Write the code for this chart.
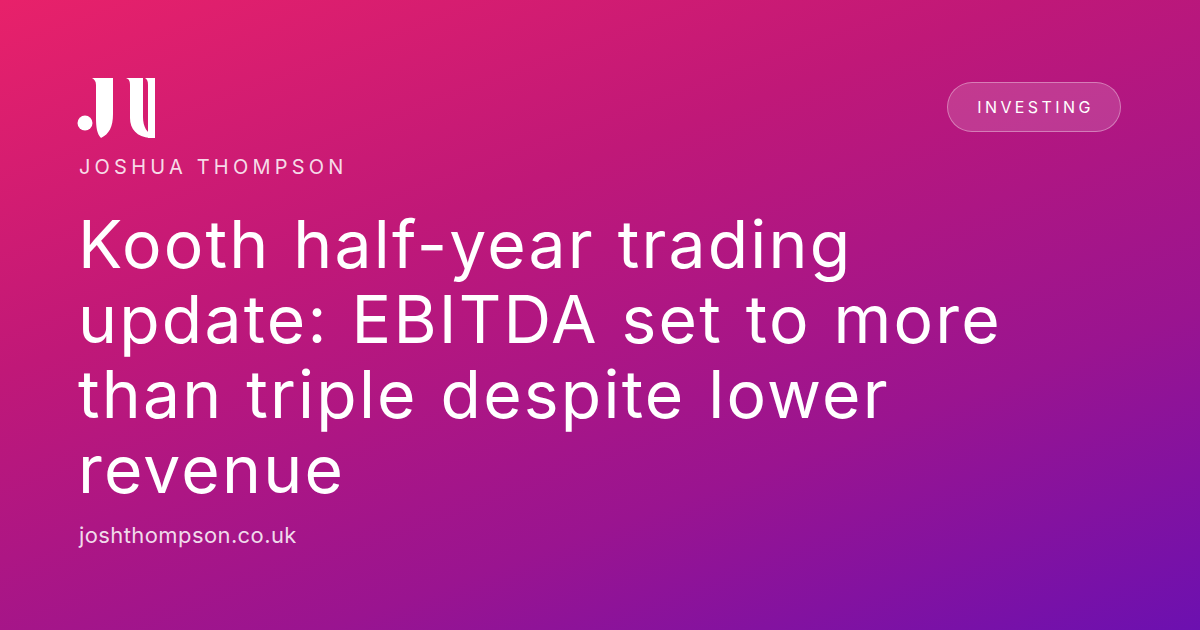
<!DOCTYPE html>
<html>
<head>
<meta charset="utf-8">
<script src="https://cdn.jsdelivr.net/npm/chart.js@4.4.1/dist/chart.umd.min.js"></script>
<style>
    html, body {
        margin: 0;
        padding: 0;
        width: 1200px;
        height: 630px;
        overflow: hidden;
    }
    body {
        position: relative;
        background: linear-gradient(160deg, #e8216a 0%, #c01878 35%, #9a1490 70%, #6c10b0 100%);
        font-family: Inter, "Noto Sans", sans-serif;
        color: #fff;
    }
    .logo {
        position: absolute;
        left: 0;
        top: 0;
    }
    .name {
        position: absolute;
        left: 79px;
        top: 155px;
        font-size: 20px;
        letter-spacing: 4.2px;
        color: rgba(255, 255, 255, 0.85);
    }
    .pill {
        position: absolute;
        left: 947px;
        top: 82px;
        width: 172px;
        height: 48px;
        border: 1.5px solid rgba(255, 255, 255, 0.35);
        background: rgba(255, 255, 255, 0.15);
        border-radius: 26px;
        font-size: 16px;
        letter-spacing: 3.4px;
        text-indent: 3px;
        line-height: 48px;
        text-align: center;
    }
    h1 {
        position: absolute;
        left: 78px;
        top: 207px;
        width: 1100px;
        margin: 0;
        font-weight: 400;
        font-size: 66px;
        line-height: 75px;
        letter-spacing: 2.2px;
        word-spacing: 2px;
    }
    .site {
        position: absolute;
        left: 79px;
        top: 522px;
        font-size: 22px;
        letter-spacing: 0.4px;
        color: rgba(255, 255, 255, 0.85);
    }
</style>
</head>
<body>
<!-- monogram -->
<svg class="logo" width="200" height="160">
    <circle cx="85" cy="123" r="7.5" fill="#fff"/>
    <path d="M92 78 H113 V114 C113 127 109 134 101 138 C97 134 96 127 96 118 V85 C96 81 94 79 92 78 Z" fill="#fff"/>
    <path d="M126 78 H143 V117 C143 127 147 133 154 136 V138 H150 C137 137 130 129 130 118 V85 C130 81 129 79 126 78 Z" fill="#fff"/>
    <path d="M145 78 H155 V138 H148 V85 C148 81 147 79 145 78 Z" fill="#fff"/>
</svg>
<div class="name">JOSHUA THOMPSON</div>
<div class="pill">INVESTING</div>
<h1>Kooth half-year trading<br>update: EBITDA set to more<br>than triple despite lower<br>revenue</h1>
<div class="site">joshthompson.co.uk</div>
</body>
</html>
